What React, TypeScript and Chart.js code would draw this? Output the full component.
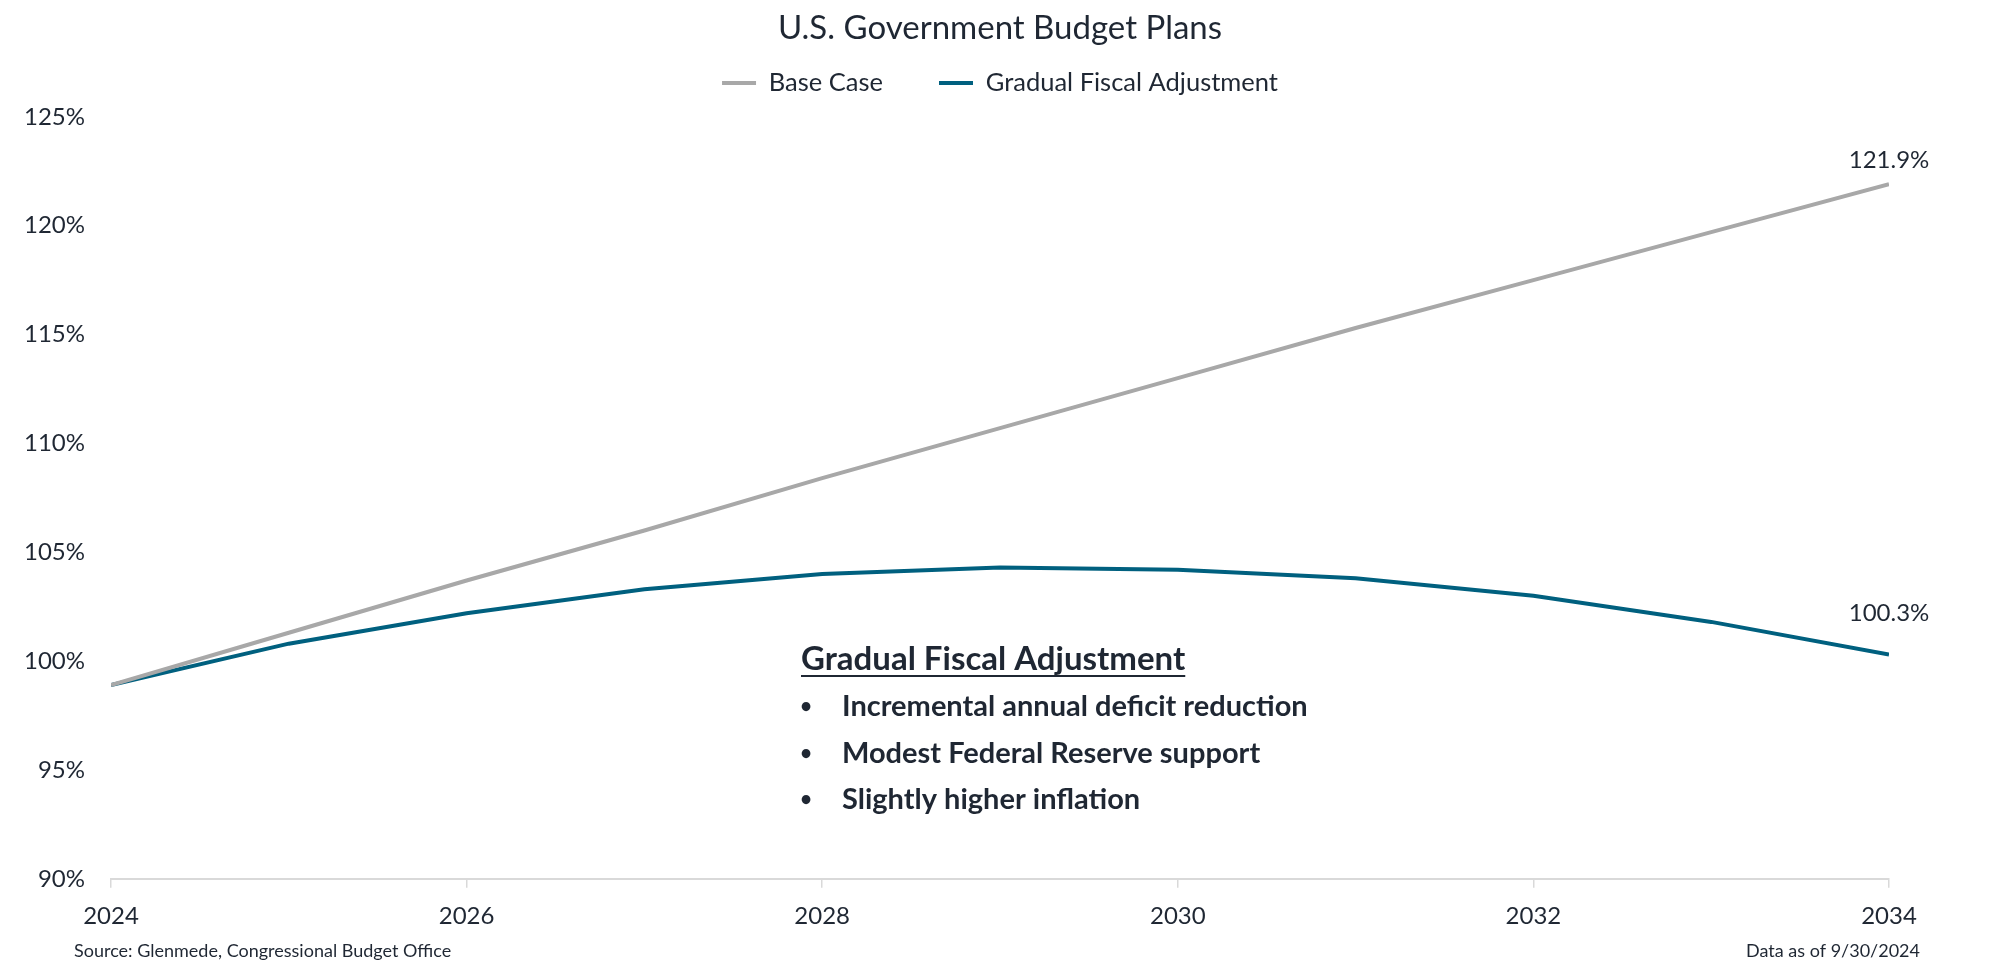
import React, { useEffect, useRef } from "react";
import { Chart, registerables } from "chart.js";

Chart.register(...registerables);

const YEARS = [2024, 2025, 2026, 2027, 2028, 2029, 2030, 2031, 2032, 2033, 2034];
const BASE_CASE = [98.9, 101.3, 103.7, 106.0, 108.4, 110.7, 113.0, 115.3, 117.5, 119.7, 121.9];
const GRADUAL = [98.9, 100.8, 102.2, 103.3, 104.0, 104.3, 104.2, 103.8, 103.0, 101.8, 100.3];
const SERIES_NAMES = ["Base Case", "Gradual Fiscal Adjustment"];
const Y_TICKS = [90, 95, 100, 105, 110, 115, 120, 125];
const X_TICKS = [2024, 2026, 2028, 2030, 2032, 2034];
const TITLE = "U.S. Government Budget Plans";
const NOTE_TITLE = "Gradual Fiscal Adjustment";
const NOTE_BULLETS = [
  "Incremental annual deficit reduction",
  "Modest Federal Reserve support",
  "Slightly higher inflation",
];
const SOURCE = "Source: Glenmede, Congressional Budget Office";
const DATA_DATE = "Data as of 9/30/2024";

const TEXT = "#1f2733";
const GRAY = "#a8a8a8";
const BLUE = "#00607f";
const FONT = "Lato, 'Open Sans', sans-serif";

// Adds a gap below the legend row (between legend and plot area)
const legendGapPlugin = {
  id: "legendGap",
  beforeLayout(chart: any) {
    const lg = chart.legend;
    if (lg && !lg.__gapPatched) {
      const orig = lg.fit;
      lg.fit = function () {
        orig.call(this);
        this.height += 11;
      };
      lg.__gapPatched = true;
    }
  },
};

const overlayPlugin = {
  id: "overlay",
  afterDatasetsDraw(chart: any) {
    const { ctx } = chart;
    ctx.save();
    // End labels
    const offsets = [24, 41];
    chart.data.datasets.forEach((ds: any, i: number) => {
      const meta = chart.getDatasetMeta(i);
      const last = meta.data[meta.data.length - 1];
      const v = ds.data[ds.data.length - 1].y;
      ctx.font = `24px ${FONT}`;
      ctx.fillStyle = TEXT;
      ctx.textAlign = "center";
      ctx.textBaseline = "middle";
      ctx.fillText(v.toFixed(1) + "%", last.x, last.y - offsets[i]);
    });

    // Annotation
    const nx = 801;
    ctx.textAlign = "left";
    ctx.textBaseline = "middle";
    ctx.font = `bold 33px ${FONT}`;
    ctx.fillStyle = TEXT;
    ctx.fillText(NOTE_TITLE, nx, 659);
    const w = ctx.measureText(NOTE_TITLE).width;
    ctx.fillRect(nx, 675, w, 2);
    NOTE_BULLETS.forEach((b, i) => {
      const y = 707 + i * 46.5;
      ctx.font = `bold 20px ${FONT}`;
      ctx.textAlign = "center";
      ctx.fillText("•", 806, y);
      ctx.font = `bold 29px ${FONT}`;
      ctx.textAlign = "left";
      ctx.fillText(b, 842, y);
    });

    // Footer
    ctx.font = `18px ${FONT}`;
    ctx.textAlign = "left";
    ctx.fillText(SOURCE, 74, 951);
    ctx.textAlign = "right";
    ctx.fillText(DATA_DATE, 1920, 951);
    ctx.restore();
  },
};

export default function App() {
  const ref = useRef<HTMLCanvasElement>(null);
  useEffect(() => {
    document.body.style.margin = "0";
    const canvas = ref.current!;
    const chart = new Chart(canvas, {
      type: "line",
      data: {
        datasets: [
          {
            label: SERIES_NAMES[0],
            data: YEARS.map((x, i) => ({ x, y: BASE_CASE[i] })),
            borderColor: GRAY,
            backgroundColor: GRAY,
            borderWidth: 4,
            pointRadius: 0,
            tension: 0,
          },
          {
            label: SERIES_NAMES[1],
            data: YEARS.map((x, i) => ({ x, y: GRADUAL[i] })),
            borderColor: BLUE,
            backgroundColor: BLUE,
            borderWidth: 4,
            pointRadius: 0,
            tension: 0,
          },
        ],
      },
      options: {
        animation: false,
        responsive: false,
        layout: { padding: { left: 0, right: 0, top: 0, bottom: 28.4 } },
        plugins: {
          title: {
            display: true,
            text: TITLE,
            color: TEXT,
            font: { family: FONT, size: 33, weight: "normal" },
            padding: { top: 8.2, bottom: -33.5 },
          },
          legend: {
            display: true,
            labels: {
              color: TEXT,
              font: { family: FONT, size: 25.5 },
              boxWidth: 34,
              boxHeight: 0,
              padding: 56,
            },
          },
          tooltip: { enabled: false },
        },
        scales: {
          x: {
            type: "linear",
            min: YEARS[0],
            max: YEARS[YEARS.length - 1],
            afterBuildTicks: (scale: any) => {
              scale.ticks = X_TICKS.map((v) => ({ value: v }));
            },
            afterFit: (scale: any) => {
              scale.paddingRight = 111;
            },
            ticks: {
              color: TEXT,
              font: { family: FONT, size: 24 },
              padding: 14,
              maxRotation: 0,
              callback: (v: any) => String(v),
            },
            grid: {
              display: true,
              drawOnChartArea: false,
              drawTicks: true,
              tickLength: 9,
              color: "#d9d9d9",
              lineWidth: 1.5,
            },
            border: { display: true, color: "#d9d9d9", width: 2 },
          },
          y: {
            min: 90,
            max: 125,
            afterBuildTicks: (scale: any) => {
              scale.ticks = Y_TICKS.map((v) => ({ value: v }));
            },
            afterFit: (scale: any) => {
              scale.width = 111;
            },
            ticks: {
              color: TEXT,
              font: { family: FONT, size: 24 },
              padding: 26,
              callback: (v: any) => v + "%",
            },
            grid: { display: false, drawTicks: false },
            border: { display: false },
          },
        },
      },
      plugins: [legendGapPlugin, overlayPlugin],
    });
    return () => chart.destroy();
  }, []);
  return (
    <div style={{ width: 2000, height: 973, background: "#fff" }}>
      <canvas ref={ref} width={2000} height={973} />
    </div>
  );
}
